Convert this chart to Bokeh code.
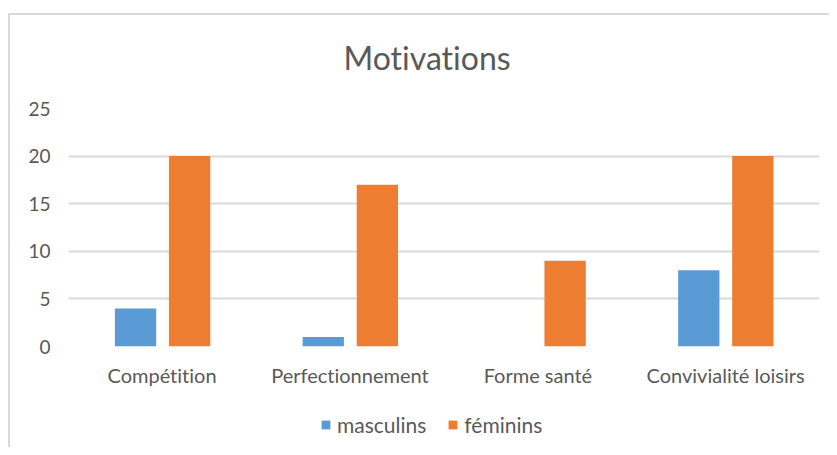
from bokeh.plotting import figure
from bokeh.layouts import column
from bokeh.models import (Range1d, FactorRange, SingleIntervalTicker, Legend, LegendItem, Title)
from bokeh.transform import dodge
from bokeh.models import ColumnDataSource
from bokeh.embed import file_html
from bokeh.resources import INLINE

categories = ["Compétition", "Perfectionnement", "Forme santé", "Convivialité loisirs"]
masculins = [4, 1, 0, 8]
feminins = [20, 17, 9, 20]
series_names = ["masculins", "féminins"]
y_ticks_interval = 5

TEXT = "#595959"
GRID = "#D9D9D9"
BLUE = "#5B9BD5"
ORANGE = "#ED7D31"
FONT = "Lato"

src = ColumnDataSource(dict(cat=categories, m=masculins, f=feminins))

p = figure(width=829, height=400, x_range=FactorRange(*categories), y_range=Range1d(0, 25),
           output_backend="svg", toolbar_location=None, title=None,
           min_border_left=68, min_border_right=10, min_border_top=108, min_border_bottom=54)
p.border_fill_color = None
p.background_fill_color = None

r1 = p.vbar(x=dodge("cat", -0.143, range=p.x_range), top="m", width=0.22, source=src,
            fill_color=BLUE, line_color=None)
r2 = p.vbar(x=dodge("cat", 0.145, range=p.x_range), top="f", width=0.22, source=src,
            fill_color=ORANGE, line_color=None)

t = Title(text="Motivations", align="left", text_font=FONT, text_font_size="32px",
          text_font_style="normal", text_color=TEXT, standoff=63, offset=275)
p.add_layout(t, "above")

p.outline_line_color = None
p.xgrid.grid_line_color = None
p.ygrid.grid_line_color = GRID
p.ygrid.grid_line_width = 2
p.yaxis.ticker = SingleIntervalTicker(interval=y_ticks_interval)
for ax in (p.xaxis, p.yaxis):
    ax.axis_line_color = None
    ax.major_tick_line_color = None
    ax.minor_tick_line_color = None
    ax.major_label_text_color = TEXT
    ax.major_label_text_font = FONT
p.yaxis.major_label_text_font_size = "19px"
p.xaxis.major_label_text_font_size = "20px"
p.yaxis.major_label_standoff = 12
p.xaxis.major_label_standoff = 10

# legend strip below the chart (zero-height swatch renderers carry the series colours)
lf = figure(width=829, height=47, x_range=Range1d(0, 1), y_range=Range1d(0, 1),
            output_backend="svg", toolbar_location=None, x_axis_type=None, y_axis_type=None,
            min_border=0)
lf.border_fill_color = None
lf.background_fill_color = None
lf.outline_line_color = None
l1 = lf.vbar(x=[0.5], top=[0], bottom=[0], width=0.0, fill_color=BLUE, line_color=None)
l2 = lf.vbar(x=[0.5], top=[0], bottom=[0], width=0.0, fill_color=ORANGE, line_color=None)
legend = Legend(items=[LegendItem(label=series_names[0], renderers=[l1]),
                       LegendItem(label=series_names[1], renderers=[l2])],
                orientation="horizontal", location=(252, 10),
                label_text_font=FONT, label_text_font_size="21px", label_text_color=TEXT,
                glyph_width=11, glyph_height=11, label_standoff=6, spacing=21,
                border_line_color=None, background_fill_alpha=0, padding=4, margin=0)
lf.add_layout(legend, "center")

layout = column(p, lf, spacing=0, styles={
    "background-image": "linear-gradient(#D9D9D9, #D9D9D9), linear-gradient(#D9D9D9, #D9D9D9)",
    "background-size": "2px 100%, 100% 2px",
    "background-position": "8px 13px, 8px 13px",
    "background-repeat": "no-repeat",
    "font-variant-ligatures": "none",
})

open("out.html", "w").write(file_html(layout, INLINE))
